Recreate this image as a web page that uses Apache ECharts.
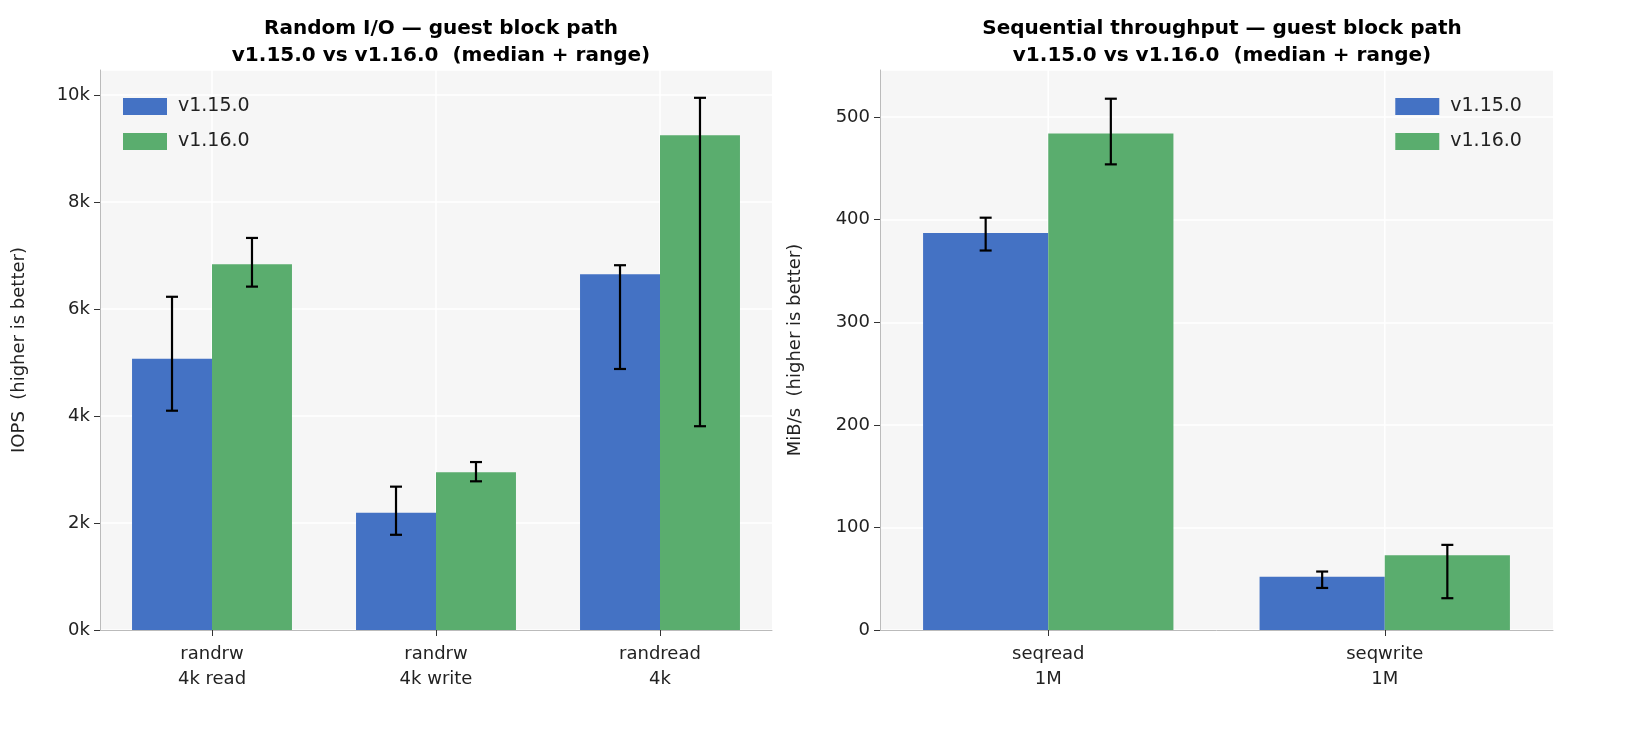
<!DOCTYPE html>
<html><head><meta charset="utf-8">
<script src="https://cdn.jsdelivr.net/npm/echarts@6/dist/echarts.min.js"></script>
<style>html,body{margin:0;background:#fff}#c{width:1631px;height:734px}</style>
</head><body><div id="c"></div>
<script>
const randCats = ['randrw\n4k read','randrw\n4k write','randread\n4k'];
const randV15 = [5070, 2190, 6650];
const randV15Lo = [4100, 1780, 4880];
const randV15Hi = [6230, 2680, 6820];
const randV16 = [6840, 2950, 9250];
const randV16Lo = [6420, 2780, 3810];
const randV16Hi = [7330, 3140, 9950];
const seqCats = ['seqread\n1M','seqwrite\n1M'];
const seqV15 = [387, 52];
const seqV15Lo = [370, 41];
const seqV15Hi = [402, 57];
const seqV16 = [484, 73];
const seqV16Lo = [454, 31];
const seqV16Hi = [518, 83];

const BLUE='#4472c4', GREEN='#5aad6e';
const font='DejaVu Sans';
function errSeries(xi, yi, lo, hi, side, gapRatio){
  return {type:'custom', xAxisIndex:xi, yAxisIndex:yi, z:10,
    data: lo.map((l,i)=>[i,l,hi[i]]),
    renderItem:(params,api)=>{
      const catW = api.size([1,0])[0];
      const bw = catW*(1-gapRatio)/2;
      const c = api.coord([api.value(0), api.value(1)]);
      const h = api.coord([api.value(0), api.value(2)]);
      const x = c[0] + side*bw/2;
      const st={stroke:'#000',lineWidth:2.2};
      return {type:'group',children:[
        {type:'line',shape:{x1:x,y1:c[1],x2:x,y2:h[1]},style:st},
        {type:'line',shape:{x1:x-6,y1:c[1],x2:x+6,y2:c[1]},style:st},
        {type:'line',shape:{x1:x-6,y1:h[1],x2:x+6,y2:h[1]},style:st}]};
    }};
}
function vGrid(xi, yi, n, ymax){
  return {type:'custom', xAxisIndex:xi, yAxisIndex:yi, z:0, silent:true,
    data: Array.from({length:n},(_, i)=>[i]),
    renderItem:(params,api)=>{
      const b = api.coord([api.value(0), 0]);
      const t = api.coord([api.value(0), ymax]);
      return {type:'line',shape:{x1:b[0],y1:b[1],x2:b[0],y2:t[1]},style:{stroke:'#fff',lineWidth:1.5}};
    }};
}
const axisLbl={color:'#222',fontSize:18,fontFamily:font};
function xA(gi,cats){return {gridIndex:gi,type:'category',data:cats,axisLine:{lineStyle:{color:'#bbb'}},
  axisTick:{show:true,alignWithLabel:true,length:6,lineStyle:{color:'#333'}},axisLabel:{...axisLbl,lineHeight:25,margin:12},splitLine:{show:false}};}
function yA(gi,max,interval,name,fmt){return {gridIndex:gi,type:'value',min:0,max,interval,
  name,nameLocation:'middle',nameGap:gi===0?72:76,nameTextStyle:{color:'#222',fontSize:18,fontFamily:font},
  axisLine:{show:true,lineStyle:{color:'#bbb'}},axisTick:{show:true,length:6,lineStyle:{color:'#333'}},
  axisLabel:{...axisLbl,formatter:fmt,showMaxLabel:false,margin:10},splitLine:{lineStyle:{color:'#fff',width:1.5}}};}
const legTxt={fontSize:19,fontFamily:font,color:'#222',padding:[0,0,0,6]};
const chart=echarts.init(document.getElementById('c'));
chart.setOption({
  backgroundColor:'#fff',
  title:[
    {text:'Random I/O — guest block path\nv1.15.0 vs v1.16.0  (median + range)',left:436,top:10,textAlign:'center',
     textStyle:{fontSize:20,fontWeight:'bold',fontFamily:font,lineHeight:27,color:'#000'}},
    {text:'Sequential throughput — guest block path\nv1.15.0 vs v1.16.0  (median + range)',left:1217,top:10,textAlign:'center',
     textStyle:{fontSize:20,fontWeight:'bold',fontFamily:font,lineHeight:27,color:'#000'}}],
  legend:[
    {data:['v1.15.0','v1.16.0'],left:118,top:92,orient:'vertical',icon:'rect',itemWidth:44,itemHeight:17,itemGap:16,
     textStyle:legTxt,selectedMode:false},
    {data:['v1.15.0 ','v1.16.0 '],right:98,top:92,orient:'vertical',icon:'rect',itemWidth:44,itemHeight:17,itemGap:16,
     textStyle:legTxt,selectedMode:false}],
  grid:[{left:100,top:70,width:672,height:560,backgroundColor:'#f6f6f6',show:true,borderWidth:0},
        {left:880,top:70,width:673,height:560,backgroundColor:'#f6f6f6',show:true,borderWidth:0}],
  xAxis:[xA(0,randCats),xA(1,seqCats)],
  yAxis:[yA(0,10470,2000,'IOPS  (higher is better)',v=>(v/1000)+'k'),
         yA(1,546,100,'MiB/s  (higher is better)',v=>v)],
  series:[
    vGrid(0,0,3,10470), vGrid(1,1,2,546),
    {name:'v1.15.0',type:'bar',xAxisIndex:0,yAxisIndex:0,data:randV15,itemStyle:{color:BLUE},barGap:'0%',barCategoryGap:'28.6%'},
    {name:'v1.16.0',type:'bar',xAxisIndex:0,yAxisIndex:0,data:randV16,itemStyle:{color:GREEN},barGap:'0%',barCategoryGap:'28.6%'},
    {name:'v1.15.0 ',type:'bar',xAxisIndex:1,yAxisIndex:1,data:seqV15,itemStyle:{color:BLUE},barGap:'0%',barCategoryGap:'25.6%'},
    {name:'v1.16.0 ',type:'bar',xAxisIndex:1,yAxisIndex:1,data:seqV16,itemStyle:{color:GREEN},barGap:'0%',barCategoryGap:'25.6%'},
    errSeries(0,0,randV15Lo,randV15Hi,-1,0.286),
    errSeries(0,0,randV16Lo,randV16Hi,1,0.286),
    errSeries(1,1,seqV15Lo,seqV15Hi,-1,0.256),
    errSeries(1,1,seqV16Lo,seqV16Hi,1,0.256)
  ]
});
</script></body></html>
